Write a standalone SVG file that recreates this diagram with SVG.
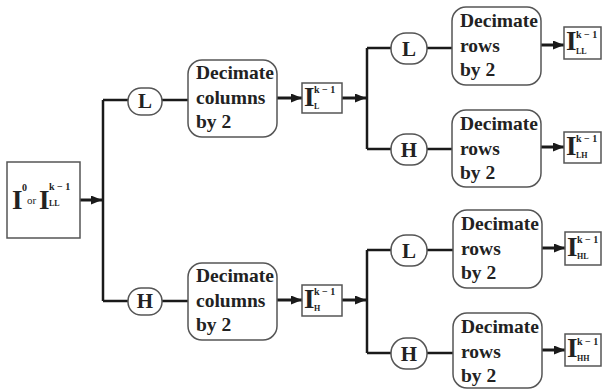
<svg xmlns="http://www.w3.org/2000/svg" width="603" height="389" viewBox="0 0 603 389">
<defs>
<marker id="ah" viewBox="0 0 11 9" refX="11" refY="4.5" markerWidth="11" markerHeight="9" markerUnits="userSpaceOnUse" orient="auto">
<path d="M0,0 L11,4.5 L0,9 Z" fill="#1a1a1a"/>
</marker>
</defs>
<style>
.bg{fill:#ffffff}
.ln{fill:none;stroke:#1a1a1a;stroke-width:2.5}
.ar{fill:none;stroke:#1a1a1a;stroke-width:3;marker-end:url(#ah)}
.box{fill:#ffffff;stroke:#555555;stroke-width:1.5}
.rb{fill:#ffffff;stroke:#555555;stroke-width:1.5}
.t{font-family:"Liberation Serif",serif;font-weight:bold;fill:#222222}
.dec{font-size:19.5px}
.lh{font-size:21px;text-anchor:middle}
.big{font-size:27px}
.sup{font-size:10px}
.sub{font-size:8px}
</style>
<rect class="bg" x="0" y="0" width="603" height="389"/>

<g id="connectors">
<path class="ar" d="M80,200 H102"/>
<path class="ln" d="M103,100 V301"/>
<path class="ln" d="M103,100 H128 M162,100 H188"/>
<path class="ln" d="M103,301 H128 M162,301 H188"/>
<path class="ar" d="M277,98 H302"/>
<path class="ar" d="M277,300 H302"/>
<path class="ar" d="M342,98 H366"/>
<path class="ar" d="M342,300 H366"/>
<path class="ln" d="M367,48 V149"/>
<path class="ln" d="M367,250 V353"/>
<path class="ln" d="M367,48 H391 M427,48 H452"/>
<path class="ln" d="M367,149 H391 M427,149 H452"/>
<path class="ln" d="M367,250 H391 M427,250 H453"/>
<path class="ln" d="M367,353 H391 M427,353 H453"/>
<path class="ar" d="M541,45 H564"/>
<path class="ar" d="M541,147 H564"/>
<path class="ar" d="M542,248 H565"/>
<path class="ar" d="M542,350 H565"/>
</g>

<g id="input">
<rect class="box" x="7" y="162" width="73" height="76"/>
<text class="t big" x="12" y="209">I</text>
<text class="t sup" x="22" y="191">0</text>
<text class="t" x="27" y="204" style="font-size:11px;font-weight:normal">or</text>
<text class="t big" x="39" y="209">I</text>
<text class="t sup" x="49" y="190">k − 1</text>
<text class="t sub" x="49" y="206">LL</text>
</g>

<g id="L1">
<rect class="rb" x="128" y="88" width="34" height="27" rx="13"/>
<text class="t lh" x="145" y="108">L</text>
</g>
<g id="H1">
<rect class="rb" x="128" y="288" width="34" height="27" rx="13"/>
<text class="t lh" x="145" y="308">H</text>
</g>

<g id="dc1">
<rect class="rb" x="188" y="60" width="89" height="77" rx="14"/>
<text class="t dec" x="196" y="79">Decimate</text>
<text class="t dec" x="196" y="104">columns</text>
<text class="t dec" x="196" y="128">by 2</text>
</g>
<g id="dc2">
<rect class="rb" x="188" y="263" width="89" height="77" rx="14"/>
<text class="t dec" x="196" y="282">Decimate</text>
<text class="t dec" x="196" y="307">columns</text>
<text class="t dec" x="196" y="331">by 2</text>
</g>

<g id="IL">
<rect class="box" x="302" y="83" width="40" height="30"/>
<text class="t big" x="304" y="106">I</text>
<text class="t sup" x="314" y="93">k − 1</text>
<text class="t sub" x="314" y="109">L</text>
</g>
<g id="IH">
<rect class="box" x="302" y="285" width="40" height="31"/>
<text class="t big" x="304" y="308">I</text>
<text class="t sup" x="314" y="295">k − 1</text>
<text class="t sub" x="314" y="311">H</text>
</g>

<g id="L2">
<rect class="rb" x="391" y="33" width="36" height="31" rx="15"/>
<text class="t lh" x="409" y="56">L</text>
</g>
<g id="H2">
<rect class="rb" x="391" y="134" width="36" height="31" rx="15"/>
<text class="t lh" x="409" y="157">H</text>
</g>
<g id="L3">
<rect class="rb" x="391" y="235" width="36" height="31" rx="15"/>
<text class="t lh" x="409" y="258">L</text>
</g>
<g id="H3">
<rect class="rb" x="391" y="338" width="36" height="31" rx="15"/>
<text class="t lh" x="409" y="361">H</text>
</g>

<g id="dr1">
<rect class="rb" x="452" y="7" width="89" height="78" rx="14"/>
<text class="t dec" x="460" y="27">Decimate</text>
<text class="t dec" x="460" y="52">rows</text>
<text class="t dec" x="460" y="76">by 2</text>
</g>
<g id="dr2">
<rect class="rb" x="452" y="110" width="89" height="77" rx="14"/>
<text class="t dec" x="460" y="130">Decimate</text>
<text class="t dec" x="460" y="155">rows</text>
<text class="t dec" x="460" y="179">by 2</text>
</g>
<g id="dr3">
<rect class="rb" x="453" y="210" width="89" height="78" rx="14"/>
<text class="t dec" x="461" y="230">Decimate</text>
<text class="t dec" x="461" y="255">rows</text>
<text class="t dec" x="461" y="279">by 2</text>
</g>
<g id="dr4">
<rect class="rb" x="453" y="313" width="89" height="75" rx="14"/>
<text class="t dec" x="461" y="333">Decimate</text>
<text class="t dec" x="461" y="358">rows</text>
<text class="t dec" x="461" y="382">by 2</text>
</g>

<g id="ILL">
<rect class="box" x="564" y="27" width="37" height="32"/>
<text class="t big" x="566" y="50">I</text>
<text class="t sup" x="576" y="38">k − 1</text>
<text class="t sub" x="576" y="54">LL</text>
</g>
<g id="ILH">
<rect class="box" x="564" y="132" width="37" height="31"/>
<text class="t big" x="566" y="155">I</text>
<text class="t sup" x="576" y="142">k − 1</text>
<text class="t sub" x="576" y="158">LH</text>
</g>
<g id="IHL">
<rect class="box" x="565" y="232" width="36" height="33"/>
<text class="t big" x="567" y="256">I</text>
<text class="t sup" x="577" y="243">k − 1</text>
<text class="t sub" x="577" y="259">HL</text>
</g>
<g id="IHH">
<rect class="box" x="565" y="334" width="36" height="32"/>
<text class="t big" x="567" y="357">I</text>
<text class="t sup" x="577" y="345">k − 1</text>
<text class="t sub" x="577" y="361">HH</text>
</g>
</svg>
